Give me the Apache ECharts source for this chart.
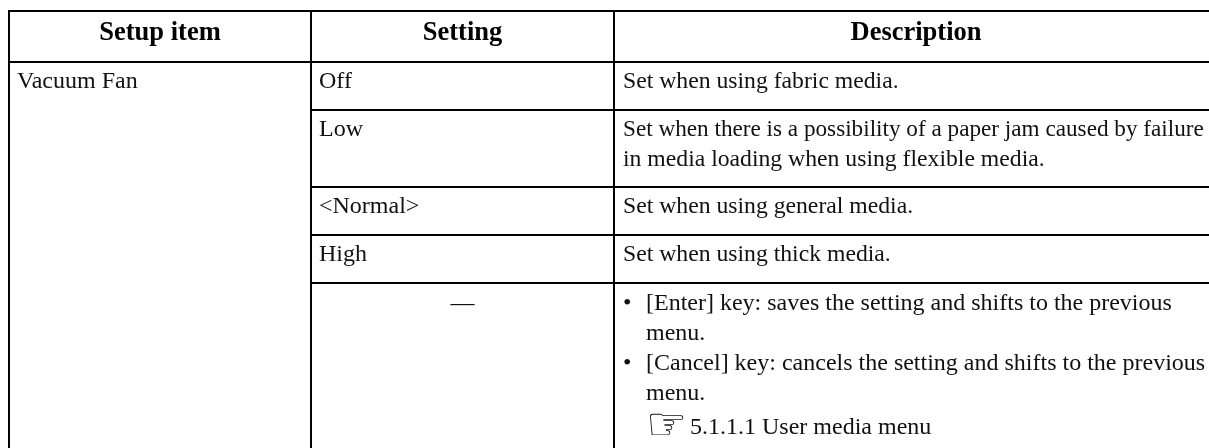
<!DOCTYPE html>
<html lang="en">
<head>
	<meta charset="UTF-8">
	<title>Vacuum Fan settings</title>
	<style>html,body{margin:0;padding:0;background:#fff}</style>
	<script src="https://cdn.jsdelivr.net/npm/echarts@6/dist/echarts.min.js"></script>
</head>
<body>
	<div id="chart" style="width:1209px; height:448px"></div>
	<script>
	var headers = ['Setup item', 'Setting', 'Description'];
	var rowNames = ['off', 'low', 'normal', 'high', 'keys'];
	var setupItem = 'Vacuum Fan';
	var settings = ['Off', 'Low', '<Normal>', 'High', '—'];
	var descriptions = [
		'Set when using fabric media.',
		'{s|Set when there is a possibility of a paper jam caused by failure}\nin media loading when using flexible media.',
		'Set when using general media.',
		'Set when using thick media.',
		'{b|•}[Enter] key: saves the setting and shifts to the previous\n{i| }menu.\n{b|•}[Cancel] key: cancels the setting and shifts to the previous\n{i| }menu.\n{i| }{h|☞}{t|5.1.1.1 User media menu}'
	];

	// table layout in pixels
	var colSizes = [302, 303, 604];
	var rowSizes = [48, 77, 48, 48, 200];
	var headerSize = 51;

	var line = {borderColor: '#000', borderWidth: 2};
	var font = {fontFamily: 'Liberation Serif', fontSize: 24, lineHeight: 30, color: '#111', overflow: 'none', lineOverflow: 'none'};
	var descFont = Object.assign({}, font, {fontSize: 23.7});
	var keysFont = Object.assign({}, font);

	function cellLabel(base, extra) {
		return Object.assign({}, base, {position: 'insideTopLeft', distance: 0, padding: [5, 8, 0, 8]}, extra);
	}

	var cells = [{
		coord: [0, [0, rowNames.length - 1]],
		mergeCells: true,
		value: setupItem,
		label: cellLabel(font)
	}];
	rowNames.forEach(function (name, i) {
		var isKeys = name === 'keys';
		cells.push({
			coord: [1, i],
			value: settings[i],
			label: isKeys ? cellLabel(font, {position: 'insideTop', padding: [6, 8, 0, 8]}) : cellLabel(font)
		});
		cells.push({
			coord: [2, i],
			value: descriptions[i],
			label: cellLabel(isKeys ? keysFont : descFont, {
				padding: [isKeys ? 6 : 5, 8, 0, 9],
				rich: {
					s: {fontFamily: 'Liberation Serif', fontSize: 23.2, lineHeight: 30, color: '#111'},
					b: {fontFamily: 'Liberation Serif', fontSize: 24, lineHeight: 30, color: '#111', width: 23},
					i: {fontFamily: 'Liberation Serif', fontSize: 24, lineHeight: 30, width: 23},
					h: {fontFamily: 'DejaVu Sans', fontSize: 46, lineHeight: 38, width: 44, color: '#111'},
					t: {fontFamily: 'Liberation Serif', fontSize: 24, lineHeight: 38, color: '#111'}
				}
			})
		});
	});

	var myChart = echarts.init(document.getElementById('chart'));
	myChart.setOption({
		animation: false,
		matrix: {
			left: 9,
			top: 11,
			width: 1209,
			height: 472,
			backgroundStyle: {color: '#fff', borderWidth: 0},
			x: {
				levelSize: headerSize,
				data: headers.map(function (h, i) { return {value: h, size: colSizes[i]}; }),
				itemStyle: Object.assign({color: '#fff'}, line),
				dividerLineStyle: {color: '#000', width: 2},
				label: Object.assign({}, font, {fontSize: 26.5, fontWeight: 'bold', color: '#000', position: 'insideTop', distance: 0, padding: [7, 0, 0, 0]})
			},
			y: {
				show: false,
				data: rowNames.map(function (r, i) { return {value: r, size: rowSizes[i]}; })
			},
			body: {
				data: cells,
				itemStyle: Object.assign({color: '#fff'}, line),
				label: font
			}
		}
	});
	</script>
</body>
</html>
